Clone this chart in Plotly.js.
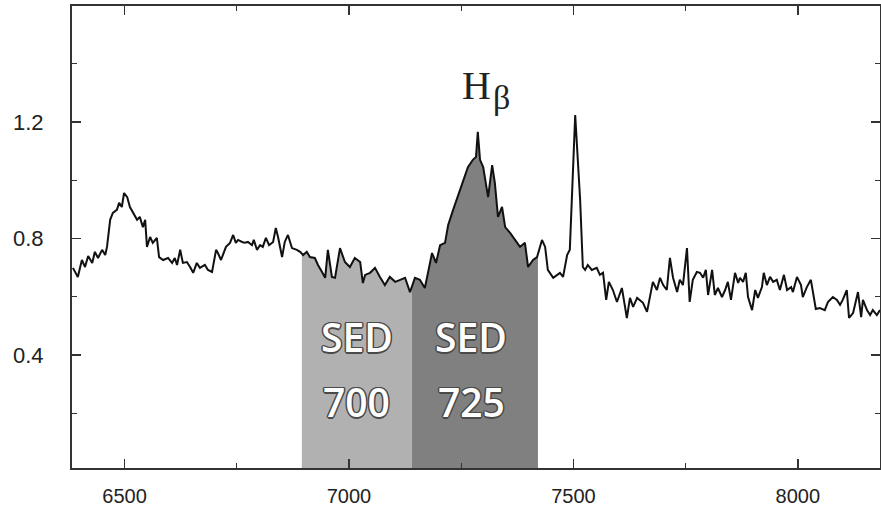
<!DOCTYPE html>
<html>
<head>
<meta charset="utf-8">
<script src="https://cdn.plot.ly/plotly-3.0.1.min.js"></script>
<style>html,body{margin:0;padding:0;background:#fff;}#chart{width:881px;height:508px;}</style>
</head>
<body>
<div id="chart"></div>
<script>
// Wavelength (Å) and normalised flux
var wavelength = [6385,6396,6405,6412,6419,6428,6434,6441,6450,6457,6461,6468,6474,6483,6488,6494,6499,6506,6512,6519,6528,6534,6541,6546,6550,6557,6563,6572,6577,6586,6597,6606,6612,6617,6624,6630,6639,6646,6653,6661,6668,6679,6686,
6695,6704,6708,6715,6719,6726,6735,6742,6748,6753,6762,6768,6775,6784,6788,6795,6802,6808,6815,6822,6831,6837,6842,6851,6857,6864,6873,6884,6891,6898,6906,6913,6924,6931,6940,6947,6953,6962,6969,6980,6991,7002,7013,7025,7031,7036,7047,7058,7069,7080,7091,7103,7114,7125,7136,7147,7158,7169,7176,7185,7194,7203,7214,7221,7232,7243,7254,7265,7276,7283,7287,7292,7299,7303,7310,7319,7325,7332,7341,7348,7359,7370,7381,7392,7399,7410,7419,7430,7437,7443,7455,7470,7477,7486,7492,7504,7515,7521,7526,7532,7541,7552,7559,7566,7573,7579,7588,7597,7608,7615,7619,7626,7633,7642,7648,7655,7664,7671,7677,7686,7693,7700,7708,7715,7722,7731,7737,7744,7753,7759,7766,7775,7782,7789,7795,7800,7809,7815,7822,7831,7838,7844,7851,7860,7867,7871,7878,7884,7889,7898,7905,7911,7920,7924,7931,7938,7945,7953,7960,7969,7976,7985,7989,7998,8007,8011,8020,8029,8034,8040,8049,8060,8067,8078,8087,8094,8100,8109,8114,8123,8134,8141,8145,8154,8161,8167,8176,8183];
var flux = [0.699,0.668,0.726,0.702,0.740,0.716,0.754,0.733,0.761,0.743,0.771,0.864,0.888,0.898,0.922,0.908,0.956,0.942,0.908,0.888,0.864,0.874,0.839,0.864,0.771,0.805,0.785,0.802,0.736,0.726,0.733,0.716,0.733,0.709,0.761,0.716,0.719,0.702,0.682,0.716,0.699,0.709,0.692,
0.685,0.761,0.750,0.726,0.743,0.771,0.785,0.812,0.785,0.795,0.788,0.785,0.788,0.777,0.795,0.761,0.777,0.771,0.802,0.777,0.788,0.836,0.805,0.736,0.788,0.812,0.767,0.761,0.754,0.743,0.754,0.736,0.733,0.709,0.685,0.665,0.761,0.668,0.665,0.767,0.719,0.702,0.733,0.719,0.647,0.675,0.682,0.699,0.668,0.640,0.668,0.651,0.658,0.665,0.616,0.665,0.658,0.630,0.682,0.750,0.716,0.777,0.785,0.846,0.898,0.949,1.001,1.045,1.070,1.080,1.166,1.070,1.045,1.011,0.942,1.052,0.991,0.874,0.908,0.839,0.819,0.795,0.771,0.785,0.702,0.726,0.736,0.795,0.771,0.692,0.665,0.682,0.668,0.743,0.761,1.224,0.932,0.702,0.692,0.709,0.692,0.699,0.675,0.682,0.589,0.651,0.623,0.582,0.630,0.565,0.527,0.596,0.565,0.596,0.589,0.579,0.548,0.606,0.651,0.623,0.665,0.640,0.623,0.733,0.665,0.616,0.658,0.640,0.767,0.582,0.658,0.685,0.682,0.665,0.692,0.606,0.692,0.606,0.630,0.599,0.623,0.651,0.589,0.682,0.647,0.665,0.651,0.682,0.599,0.554,0.623,0.596,0.633,0.682,0.640,0.668,0.651,0.658,0.623,0.675,0.623,0.633,0.616,0.668,0.640,0.599,0.633,0.658,0.613,0.558,0.561,0.554,0.582,0.599,0.589,0.572,0.589,0.623,0.527,0.544,0.616,0.530,0.589,0.554,0.537,0.554,0.537,0.554];

// SED filter bands (Å)
var bandNames = ['SED 700', 'SED 725'];
var bandStart = [6895, 7140];
var bandEnd = [7140, 7421];
var bandColors = ['#b1b1b1', '#808080'];
var bandLabelTop = ['SED', 'SED'];
var bandLabelBottom = ['700', '725'];
var bandLabelX = [7017, 7272];

var xTickVals = [6500, 7000, 7500, 8000];
var yTickVals = [0.4, 0.8, 1.2];
var lineLabel = 'H';
var lineLabelGreek = 'β';
var lineLabelX = 7319;

function fluxAt(x) {
  for (var i = 0; i < wavelength.length - 1; i++) {
    if (x >= wavelength[i] && x <= wavelength[i + 1]) {
      var t = (x - wavelength[i]) / (wavelength[i + 1] - wavelength[i]);
      return flux[i] + t * (flux[i + 1] - flux[i]);
    }
  }
  return flux[flux.length - 1];
}

var traces = [];
for (var b = 0; b < bandNames.length; b++) {
  var bx = [bandStart[b]], by = [fluxAt(bandStart[b])];
  for (var i = 0; i < wavelength.length; i++) {
    if (wavelength[i] > bandStart[b] && wavelength[i] < bandEnd[b]) { bx.push(wavelength[i]); by.push(flux[i]); }
  }
  bx.push(bandEnd[b]); by.push(fluxAt(bandEnd[b]));
  traces.push({x: bx, y: by, type: 'scatter', mode: 'lines', fill: 'tozeroy',
    fillcolor: bandColors[b], line: {width: 0, color: bandColors[b]}, name: bandNames[b], hoverinfo: 'skip'});
}
traces.push({x: wavelength, y: flux, type: 'scatter', mode: 'lines',
  line: {color: '#111111', width: 2}, name: 'spectrum'});

var oc = '#4a4a4a';
var outline = [[1.5,0],[-1.5,0],[0,1.5],[0,-1.5],[1,1],[-1,-1],[1,-1],[-1,1]].map(function (d) {
  return oc + ' ' + d[0] + 'px ' + d[1] + 'px 0.5px';
}).join(', ');
var labelFont = {family: 'Open Sans', size: 39, color: '#ffffff', weight: 600, shadow: outline};
var annotations = [];
for (var b = 0; b < bandNames.length; b++) {
  annotations.push({x: bandLabelX[b], y: 0.465, xref: 'x', yref: 'y', text: bandLabelTop[b], showarrow: false, font: labelFont});
  annotations.push({x: bandLabelX[b], y: 0.242, xref: 'x', yref: 'y', text: bandLabelBottom[b], showarrow: false, font: labelFont});
}
annotations.push({x: lineLabelX, y: 1.324, xref: 'x', yref: 'y', text: lineLabel, showarrow: false, xanchor: 'right',
  borderpad: 0, font: {family: 'Liberation Serif', size: 40, color: '#222'}});
annotations.push({x: lineLabelX, y: 1.284, xref: 'x', yref: 'y', text: lineLabelGreek, showarrow: false, xanchor: 'left',
  borderpad: 0, font: {family: 'Liberation Serif', size: 34, color: '#222'}});

var layout = {
  width: 881, height: 508,
  margin: {l: 72, r: 1, t: 6, b: 40},
  paper_bgcolor: '#ffffff', plot_bgcolor: '#ffffff',
  showlegend: false,
  font: {family: 'Liberation Sans', color: '#222'},
  xaxis: {range: [6383, 8183], tickvals: xTickVals, ticktext: xTickVals.map(String),
    ticks: 'inside', ticklen: 9, tickwidth: 1.5, tickcolor: '#333',
    minor: {dtick: 250, tick0: 6250, ticks: 'inside', ticklen: 5, tickwidth: 1.3, tickcolor: '#333'},
    showline: true, linecolor: '#333', linewidth: 2, mirror: 'ticks', showgrid: false, zeroline: false,
    tickfont: {size: 20, color: '#222'}, ticklabelstandoff: 9},
  yaxis: {range: [0.012, 1.598], tickvals: yTickVals, ticktext: ['0.4', '0.8', '1.2'],
    ticks: 'inside', ticklen: 9, tickwidth: 1.5, tickcolor: '#333',
    minor: {dtick: 0.2, tick0: 0, ticks: 'inside', ticklen: 5, tickwidth: 1.3, tickcolor: '#333'},
    showline: true, linecolor: '#333', linewidth: 2, mirror: 'ticks', showgrid: false, zeroline: false,
    tickfont: {size: 22, color: '#222'}, ticklabelstandoff: 22},
  annotations: annotations
};

Plotly.newPlot('chart', traces, layout, {displayModeBar: false, staticPlot: true});
</script>
</body>
</html>
